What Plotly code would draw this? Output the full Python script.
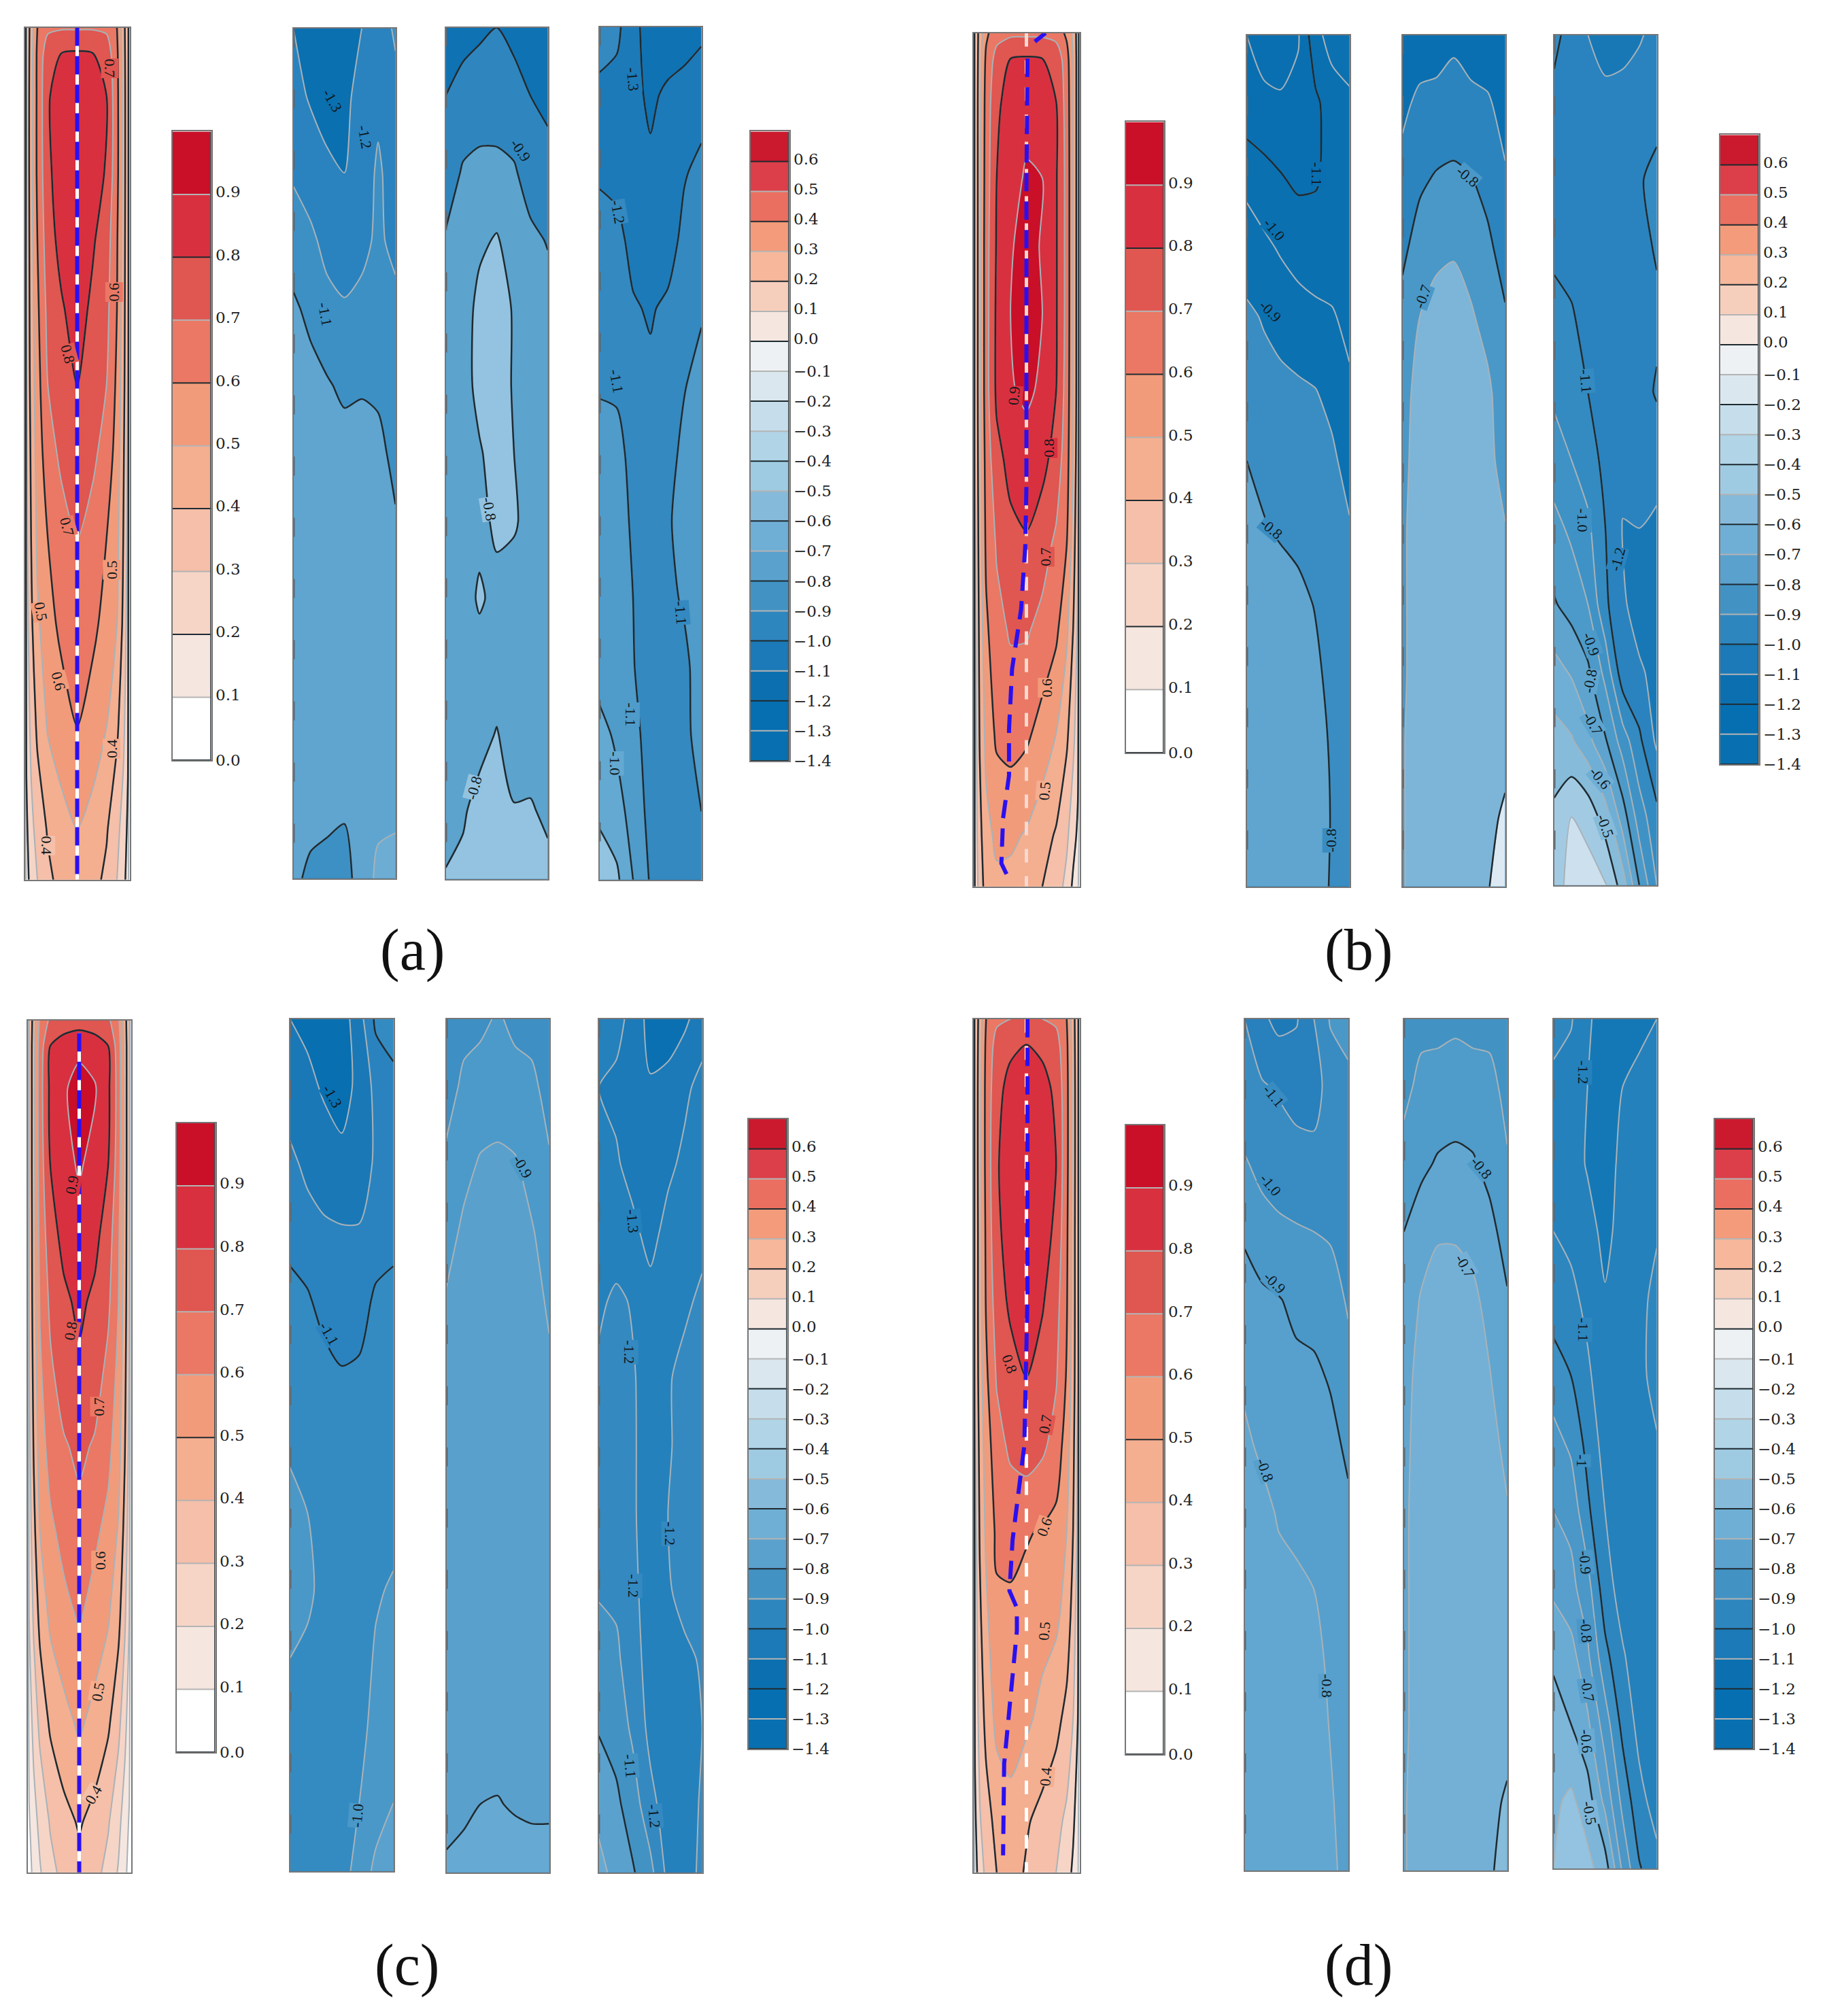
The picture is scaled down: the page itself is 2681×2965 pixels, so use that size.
"""
Velocity contour strips for four cases, each with a red strip, three blue strips and two colour bars.
"""

import plotly.graph_objects as go

CANVAS_W = 2681
CANVAS_H = 2965
# the page keeps its default body margin, so the figure sits 8 px in from the corner
PAGE_MARGIN = 8
FIG_W = CANVAS_W - 2 * PAGE_MARGIN
FIG_H = CANVAS_H - 2 * PAGE_MARGIN
# small correction measured from a render against the reference
X_SHIFT = 1.5
Y_SHIFT = 2.6
Y_FIT = 1.0038

RED_X = [0, .015, .06, .12, .22, .35, .5, .65, .78, .88, .94, .985, 1]
RED_Y = [0, .03, .08, .17, .25, .33, .42, .5, .6, .7, .82, .94, 1]
BLUE_X = [0, .17, .33, .5, .67, .83, 1]
BLUE_Y = [0, .08, .17, .25, .33, .42, .5, .58, .67, .75, .83, .92, 1]

RED_LEVELS = [0.0, 0.1, 0.2, 0.3, 0.4, 0.5, 0.6, 0.7, 0.8, 0.9, 1.0]
RED_COLORS = ["#ffffff", "#f5e6df", "#f6d5c7", "#f5bfa9", "#f4ae90", "#f29b7a",
              "#ea7864", "#e05650", "#d93040", "#ca0f28"]
RED_TICKS = ["0.0", "0.1", "0.2", "0.3", "0.4", "0.5", "0.6", "0.7", "0.8", "0.9"]

BLUE_LEVELS = [-1.4, -1.3, -1.2, -1.1, -1.0, -0.9, -0.8, -0.7, -0.6, -0.5, -0.4,
               -0.3, -0.2, -0.1, 0.0, 0.1, 0.2, 0.3, 0.4, 0.5, 0.6, 0.7]
BLUE_COLORS = ["#0870b0", "#066fb2", "#0c70b0", "#1b7ab7", "#2e86bf", "#4293c4", "#5aa1ce",
               "#6fafd5", "#85bada", "#9fcbe2", "#b1d4e6", "#c6deec", "#dbe7ef", "#edf1f4",
               "#f5e6df", "#f6cfbc", "#f6b79b", "#f39b7a", "#ea6f60", "#dc3f49", "#cb1a2e"]
BLUE_TICKS = ["−1.4", "−1.3", "−1.2", "−1.1", "−1.0", "−0.9", "−0.8", "−0.7", "−0.6", "−0.5",
              "−0.4", "−0.3", "−0.2", "−0.1", "0.0", "0.1", "0.2", "0.3", "0.4", "0.5", "0.6"]
RED_BAR_BLACK = {"a": [0, .2, .4, .6, .8], "b": [0, .2, .4, .6, .8], "c": [0, .5], "d": [0, .5]}
BLUE_BAR_BLACK = [-1.4, -1.2, -1.0, -.8, -.6, -.4, -.2, 0.0, .2, .4, .6]

A_RED = [
    [0, .30, .45, .60, .68, .69, .69, .69, .68, .60, .45, .30, 0],
    [0, .30, .46, .62, .76, .80, .81, .80, .76, .62, .46, .30, 0],
    [0, .30, .47, .62, .79, .85, .86, .85, .80, .63, .47, .30, 0],
    [0, .30, .47, .62, .78, .85, .87, .85, .79, .63, .47, .30, 0],
    [0, .30, .46, .60, .76, .83, .86, .81, .75, .61, .46, .30, 0],
    [0, .30, .45, .58, .73, .79, .84, .78, .73, .60, .45, .30, 0],
    [0, .29, .44, .56, .70, .76, .80, .76, .70, .58, .44, .29, 0],
    [0, .28, .42, .54, .66, .72, .77, .72, .66, .56, .42, .28, 0],
    [0, .27, .40, .52, .60, .66, .70, .66, .60, .53, .40, .27, 0],
    [0, .25, .38, .48, .57, .62, .66, .62, .57, .50, .38, .25, 0],
    [0, .22, .33, .42, .51, .56, .60, .56, .50, .42, .33, .22, 0],
    [0, .18, .27, .34, .41, .46, .50, .46, .41, .33, .26, .18, 0],
    [0, .16, .24, .30, .38, .43, .46, .43, .38, .30, .24, .15, 0],
]
A_B1 = [
    [-1.00, -1.06, -1.08, -1.08, -1.00, -0.97, -0.88],
    [-0.97, -1.01, -1.04, -1.02, -0.97, -0.93, -0.94],
    [-0.91, -0.95, -0.98, -1.00, -0.97, -0.88, -0.96],
    [-0.86, -0.88, -0.93, -0.95, -0.93, -0.88, -0.93],
    [-0.78, -0.83, -0.87, -0.89, -0.87, -0.86, -0.87],
    [-0.74, -0.76, -0.79, -0.82, -0.81, -0.82, -0.84],
    [-0.73, -0.73, -0.74, -0.76, -0.76, -0.77, -0.83],
    [-0.73, -0.73, -0.73, -0.74, -0.74, -0.75, -0.79],
    [-0.73, -0.73, -0.73, -0.73, -0.73, -0.73, -0.74],
    [-0.73, -0.73, -0.73, -0.73, -0.73, -0.73, -0.73],
    [-0.74, -0.74, -0.74, -0.74, -0.73, -0.73, -0.73],
    [-0.75, -0.77, -0.78, -0.79, -0.76, -0.72, -0.715],
    [-0.78, -0.82, -0.83, -0.84, -0.75, -0.68, -0.67],
]
A_B2 = [
    [-1.08, -1.04, -1.02, -1.00, -1.03, -1.05, -1.09],
    [-1.00, -0.96, -0.94, -0.94, -0.96, -1.00, -1.02],
    [-0.95, -0.89, -0.88, -0.88, -0.89, -0.94, -0.97],
    [-0.89, -0.86, -0.82, -0.79, -0.85, -0.88, -0.905],
    [-0.87, -0.85, -0.77, -0.75, -0.81, -0.86, -0.87],
    [-0.87, -0.84, -0.77, -0.75, -0.81, -0.85, -0.87],
    [-0.87, -0.85, -0.81, -0.76, -0.80, -0.85, -0.87],
    [-0.87, -0.85, -0.83, -0.78, -0.79, -0.83, -0.87],
    [-0.87, -0.85, -0.785, -0.83, -0.84, -0.85, -0.87],
    [-0.86, -0.85, -0.85, -0.84, -0.85, -0.85, -0.86],
    [-0.86, -0.85, -0.83, -0.795, -0.84, -0.85, -0.85],
    [-0.85, -0.81, -0.77, -0.76, -0.795, -0.79, -0.82],
    [-0.79, -0.78, -0.75, -0.74, -0.76, -0.76, -0.77],
]
A_B3 = [
    [-0.96, -0.98, -1.06, -1.16, -1.17, -1.14, -1.12],
    [-1.02, -1.03, -1.07, -1.12, -1.08, -1.07, -1.05],
    [-1.01, -1.03, -1.07, -1.08, -1.07, -1.01, -0.97],
    [-0.97, -0.97, -1.03, -1.06, -1.05, -0.97, -0.95],
    [-0.93, -0.93, -0.99, -1.01, -0.98, -0.93, -0.91],
    [-0.905, -0.91, -0.95, -0.98, -0.95, -0.905, -0.87],
    [-0.88, -0.88, -0.92, -0.96, -0.93, -0.88, -0.85],
    [-0.87, -0.87, -0.91, -0.95, -0.91, -0.87, -0.85],
    [-0.86, -0.86, -0.90, -0.95, -0.92, -0.89, -0.85],
    [-0.85, -0.85, -0.895, -0.95, -0.93, -0.92, -0.86],
    [-0.76, -0.82, -0.87, -0.94, -0.93, -0.92, -0.87],
    [-0.72, -0.76, -0.84, -0.93, -0.93, -0.92, -0.90],
    [-0.64, -0.68, -0.80, -0.91, -0.92, -0.91, -0.91],
]

B_RED = [
    [0, .30, .45, .58, .66, .68, .68, .68, .66, .58, .48, .35, .10],
    [0, .30, .46, .62, .74, .80, .81, .80, .77, .64, .50, .35, .10],
    [0, .30, .47, .64, .78, .84, .87, .84, .80, .66, .50, .35, .10],
    [0, .30, .47, .65, .80, .87, .91, .90, .81, .67, .50, .35, .10],
    [0, .30, .47, .66, .81, .89, .94, .89, .81, .67, .50, .35, .10],
    [0, .30, .47, .66, .82, .90, .95, .90, .81, .67, .50, .35, .10],
    [0, .30, .47, .66, .82, .89, .92, .88, .80, .66, .50, .35, .10],
    [0, .30, .46, .64, .77, .83, .85, .83, .76, .64, .50, .33, .10],
    [0, .28, .45, .62, .71, .77, .79, .74, .68, .60, .46, .30, .10],
    [0, .27, .43, .58, .67, .71, .71, .67, .62, .52, .40, .28, .10],
    [0, .25, .41, .53, .62, .64, .62, .56, .50, .42, .33, .24, .10],
    [0, .24, .37, .47, .52, .52, .49, .44, .39, .32, .24, .18, .08],
    [0, .22, .35, .44, .48, .47, .44, .40, .35, .27, .18, .12, .05],
]
B_B1 = [
    [-1.20, -1.24, -1.24, -1.21, -1.03, -0.96, -0.94],
    [-1.17, -1.18, -1.19, -1.17, -1.12, -1.05, -1.02],
    [-1.02, -1.06, -1.09, -1.12, -1.11, -1.07, -1.06],
    [-0.96, -0.98, -1.01, -1.03, -1.05, -1.06, -1.05],
    [-0.88, -0.91, -0.94, -0.97, -0.98, -0.99, -1.03],
    [-0.84, -0.86, -0.87, -0.88, -0.895, -0.93, -0.98],
    [-0.80, -0.82, -0.84, -0.85, -0.86, -0.88, -0.94],
    [-0.76, -0.795, -0.81, -0.83, -0.84, -0.85, -0.89],
    [-0.74, -0.75, -0.76, -0.77, -0.805, -0.85, -0.87],
    [-0.73, -0.74, -0.75, -0.76, -0.78, -0.83, -0.86],
    [-0.73, -0.73, -0.74, -0.75, -0.77, -0.81, -0.85],
    [-0.72, -0.73, -0.74, -0.74, -0.76, -0.805, -0.85],
    [-0.72, -0.73, -0.74, -0.74, -0.76, -0.81, -0.85],
]
B_B2 = [
    [-0.96, -0.95, -0.95, -0.92, -0.94, -0.95, -0.97],
    [-0.92, -0.88, -0.87, -0.86, -0.88, -0.89, -0.93],
    [-0.87, -0.815, -0.79, -0.78, -0.795, -0.83, -0.89],
    [-0.82, -0.76, -0.72, -0.71, -0.74, -0.78, -0.84],
    [-0.77, -0.70, -0.67, -0.66, -0.69, -0.735, -0.79],
    [-0.74, -0.66, -0.64, -0.63, -0.64, -0.68, -0.76],
    [-0.73, -0.65, -0.63, -0.62, -0.63, -0.67, -0.74],
    [-0.72, -0.64, -0.63, -0.62, -0.63, -0.65, -0.695],
    [-0.72, -0.64, -0.63, -0.62, -0.63, -0.64, -0.68],
    [-0.72, -0.64, -0.63, -0.62, -0.63, -0.64, -0.67],
    [-0.71, -0.64, -0.63, -0.62, -0.63, -0.64, -0.65],
    [-0.71, -0.64, -0.63, -0.62, -0.62, -0.64, -0.575],
    [-0.71, -0.64, -0.63, -0.62, -0.62, -0.61, -0.52],
]
B_B3 = [
    [-1.08, -1.13, -1.20, -1.23, -1.23, -1.21, -1.17],
    [-1.12, -1.15, -1.17, -1.18, -1.17, -1.15, -1.14],
    [-1.12, -1.15, -1.16, -1.17, -1.16, -1.11, -1.07],
    [-1.12, -1.14, -1.15, -1.16, -1.15, -1.13, -1.09],
    [-1.07, -1.09, -1.14, -1.17, -1.16, -1.14, -1.12],
    [-1.02, -1.05, -1.10, -1.15, -1.16, -1.14, -1.09],
    [-0.95, -1.00, -1.05, -1.13, -1.17, -1.16, -1.16],
    [-0.87, -0.92, -0.98, -1.10, -1.205, -1.20, -1.22],
    [-0.79, -0.84, -0.90, -1.08, -1.19, -1.23, -1.24],
    [-0.66, -0.71, -0.78, -0.93, -1.16, -1.19, -1.22],
    [-0.56, -0.59, -0.67, -0.79, -0.95, -1.08, -1.22],
    [-0.48, -0.40, -0.43, -0.55, -0.75, -0.95, -1.07],
    [-0.45, -0.36, -0.36, -0.39, -0.55, -0.80, -1.00],
]

C_RED = [
    [0, .30, .45, .62, .72, .74, .75, .74, .72, .62, .45, .30, 0],
    [0, .30, .47, .65, .80, .85, .88, .85, .80, .65, .47, .30, 0],
    [0, .30, .47, .66, .82, .89, .93, .91, .82, .66, .47, .30, 0],
    [0, .30, .47, .65, .80, .87, .91, .87, .80, .65, .47, .30, 0],
    [0, .30, .46, .63, .76, .83, .87, .83, .75, .62, .46, .30, 0],
    [0, .30, .45, .61, .72, .78, .82, .78, .72, .60, .45, .30, 0],
    [0, .29, .43, .58, .68, .74, .78, .74, .67, .57, .43, .29, 0],
    [0, .27, .41, .55, .64, .69, .72, .69, .63, .54, .41, .27, 0],
    [0, .24, .37, .50, .58, .63, .67, .62, .57, .49, .37, .24, 0],
    [0, .20, .32, .43, .52, .57, .61, .56, .51, .43, .32, .20, 0],
    [0, .14, .24, .33, .42, .47, .52, .47, .42, .33, .24, .14, 0],
    [0, .09, .16, .23, .31, .37, .41, .37, .31, .23, .15, .09, 0],
    [0, .06, .13, .19, .27, .33, .37, .33, .27, .19, .13, .06, 0],
]
C_B1 = [
    [-1.20, -1.22, -1.25, -1.25, -1.14, -0.98, -0.95],
    [-1.17, -1.18, -1.21, -1.23, -1.18, -1.07, -1.03],
    [-1.07, -1.13, -1.16, -1.18, -1.17, -1.08, -1.05],
    [-1.03, -1.05, -1.08, -1.09, -1.09, -1.06, -1.03],
    [-0.97, -0.99, -1.03, -1.06, -1.05, -0.98, -0.97],
    [-0.96, -0.96, -0.97, -0.99, -0.98, -0.97, -0.99],
    [-0.91, -0.93, -0.95, -0.95, -0.95, -0.95, -0.95],
    [-0.88, -0.90, -0.93, -0.95, -0.95, -0.95, -0.93],
    [-0.87, -0.89, -0.915, -0.95, -0.95, -0.91, -0.89],
    [-0.90, -0.91, -0.93, -0.95, -0.94, -0.89, -0.87],
    [-0.93, -0.93, -0.94, -0.95, -0.92, -0.88, -0.87],
    [-0.95, -0.95, -0.95, -0.95, -0.90, -0.84, -0.80],
    [-0.95, -0.95, -0.95, -0.95, -0.85, -0.78, -0.77],
]
C_B2 = [
    [-0.93, -0.93, -0.92, -0.89, -0.92, -0.93, -0.95],
    [-0.94, -0.88, -0.86, -0.85, -0.87, -0.88, -0.93],
    [-0.88, -0.83, -0.79, -0.78, -0.79, -0.84, -0.89],
    [-0.84, -0.78, -0.76, -0.75, -0.76, -0.79, -0.85],
    [-0.79, -0.76, -0.75, -0.75, -0.75, -0.76, -0.815],
    [-0.77, -0.75, -0.75, -0.74, -0.75, -0.75, -0.78],
    [-0.76, -0.75, -0.74, -0.74, -0.74, -0.75, -0.76],
    [-0.76, -0.75, -0.74, -0.74, -0.74, -0.75, -0.76],
    [-0.76, -0.75, -0.74, -0.74, -0.74, -0.75, -0.76],
    [-0.76, -0.75, -0.74, -0.74, -0.74, -0.75, -0.76],
    [-0.76, -0.75, -0.74, -0.74, -0.74, -0.75, -0.76],
    [-0.74, -0.73, -0.70, -0.695, -0.71, -0.72, -0.72],
    [-0.68, -0.65, -0.65, -0.64, -0.65, -0.65, -0.65],
]
C_B3 = [
    [-0.95, -0.97, -1.03, -1.14, -1.15, -1.12, -1.05],
    [-1.00, -1.02, -1.05, -1.09, -1.07, -1.02, -0.97],
    [-0.96, -0.99, -1.03, -1.07, -1.02, -0.98, -0.95],
    [-0.93, -0.96, -0.98, -1.03, -0.97, -0.95, -0.93],
    [-0.92, -0.88, -0.91, -0.97, -0.95, -0.92, -0.88],
    [-0.88, -0.85, -0.89, -0.95, -0.91, -0.87, -0.86],
    [-0.86, -0.85, -0.89, -0.94, -0.91, -0.87, -0.85],
    [-0.86, -0.85, -0.89, -0.94, -0.90, -0.87, -0.85],
    [-0.81, -0.82, -0.88, -0.94, -0.91, -0.87, -0.86],
    [-0.75, -0.78, -0.86, -0.94, -0.92, -0.92, -0.89],
    [-0.71, -0.74, -0.82, -0.93, -0.95, -0.93, -0.90],
    [-0.62, -0.68, -0.75, -0.87, -0.95, -0.94, -0.89],
    [-0.58, -0.62, -0.69, -0.77, -0.93, -0.92, -0.89],
]

D_RED = [
    [0, .30, .45, .60, .68, .70, .71, .70, .68, .60, .45, .30, 0],
    [0, .30, .46, .62, .74, .78, .80, .78, .74, .62, .46, .30, 0],
    [0, .30, .47, .63, .77, .83, .85, .83, .78, .63, .47, .30, 0],
    [0, .30, .47, .63, .79, .85, .87, .85, .80, .63, .47, .30, 0],
    [0, .30, .46, .62, .78, .84, .86, .84, .78, .62, .46, .30, 0],
    [0, .30, .46, .61, .75, .82, .85, .81, .74, .61, .46, .30, 0],
    [0, .30, .45, .58, .71, .76, .80, .76, .71, .59, .45, .30, .05],
    [0, .28, .43, .55, .66, .72, .75, .72, .66, .55, .43, .28, .05],
    [0, .26, .41, .52, .62, .63, .61, .59, .57, .50, .40, .28, .05],
    [0, .24, .38, .48, .58, .58, .56, .54, .52, .46, .36, .24, .05],
    [0, .22, .34, .43, .53, .54, .52, .47, .43, .37, .30, .20, .05],
    [0, .18, .29, .36, .43, .47, .41, .37, .33, .28, .22, .14, .03],
    [0, .15, .26, .32, .40, .44, .39, .34, .30, .25, .18, .12, .02],
]
D_B1 = [
    [-1.00, -1.08, -1.13, -1.11, -1.00, -0.89, -0.87],
    [-0.97, -0.99, -1.01, -1.03, -1.04, -0.96, -0.92],
    [-0.89, -0.93, -0.95, -0.97, -0.97, -0.94, -0.93],
    [-0.81, -0.86, -0.88, -0.89, -0.90, -0.91, -0.93],
    [-0.77, -0.78, -0.795, -0.82, -0.84, -0.86, -0.91],
    [-0.72, -0.75, -0.76, -0.78, -0.78, -0.81, -0.87],
    [-0.68, -0.72, -0.74, -0.75, -0.76, -0.77, -0.82],
    [-0.66, -0.67, -0.71, -0.73, -0.74, -0.76, -0.78],
    [-0.65, -0.65, -0.67, -0.68, -0.70, -0.74, -0.77],
    [-0.65, -0.65, -0.65, -0.66, -0.67, -0.72, -0.76],
    [-0.65, -0.65, -0.65, -0.65, -0.66, -0.705, -0.75],
    [-0.65, -0.65, -0.65, -0.65, -0.66, -0.69, -0.74],
    [-0.65, -0.65, -0.65, -0.65, -0.66, -0.68, -0.73],
]
D_B2 = [
    [-0.95, -0.93, -0.93, -0.92, -0.93, -0.93, -0.95],
    [-0.93, -0.87, -0.86, -0.85, -0.86, -0.87, -0.93],
    [-0.86, -0.82, -0.79, -0.78, -0.79, -0.83, -0.89],
    [-0.80, -0.75, -0.71, -0.71, -0.73, -0.77, -0.84],
    [-0.77, -0.69, -0.66, -0.66, -0.68, -0.73, -0.79],
    [-0.74, -0.66, -0.65, -0.65, -0.65, -0.695, -0.76],
    [-0.73, -0.65, -0.65, -0.65, -0.65, -0.66, -0.73],
    [-0.72, -0.65, -0.65, -0.65, -0.65, -0.65, -0.69],
    [-0.72, -0.65, -0.65, -0.65, -0.65, -0.65, -0.66],
    [-0.72, -0.65, -0.65, -0.65, -0.65, -0.65, -0.66],
    [-0.72, -0.65, -0.65, -0.65, -0.65, -0.65, -0.65],
    [-0.71, -0.65, -0.65, -0.65, -0.65, -0.64, -0.58],
    [-0.71, -0.65, -0.65, -0.65, -0.65, -0.62, -0.54],
]
D_B3 = [
    [-1.07, -1.09, -1.19, -1.23, -1.24, -1.23, -1.20],
    [-1.12, -1.15, -1.20, -1.24, -1.20, -1.17, -1.15],
    [-1.14, -1.15, -1.21, -1.25, -1.17, -1.16, -1.15],
    [-1.10, -1.13, -1.16, -1.23, -1.16, -1.14, -1.11],
    [-1.04, -1.07, -1.13, -1.19, -1.16, -1.13, -1.07],
    [-0.96, -1.00, -1.08, -1.17, -1.16, -1.13, -1.06],
    [-0.86, -0.92, -1.03, -1.14, -1.16, -1.15, -1.11],
    [-0.80, -0.83, -0.98, -1.10, -1.16, -1.16, -1.16],
    [-0.72, -0.77, -0.86, -1.06, -1.14, -1.16, -1.16],
    [-0.62, -0.66, -0.78, -0.97, -1.09, -1.15, -1.16],
    [-0.55, -0.60, -0.68, -0.85, -1.03, -1.13, -1.16],
    [-0.52, -0.48, -0.55, -0.73, -0.93, -1.07, -1.14],
    [-0.50, -0.46, -0.47, -0.55, -0.82, -0.99, -1.07],
]

# contour labels: text, x, y, angle
A_RED_LABELS = [("0.7", .81, .048, 90), ("0.6", .85, .31, -90), ("0.8", .41, .383, 75),
                ("0.7", .40, .586, 75), ("0.5", .83, .636, -90), ("0.5", .156, .685, 80),
                ("0.6", .32, .767, 75), ("0.4", .83, .846, -90), ("0.4", .205, .96, 90)]
A_B1_LABELS = [("-1.3", .38, .085, 60), ("-1.2", .70, .128, 80), ("-1.1", .31, .336, 80)]
A_B2_LABELS = [("-0.9", .73, .144, 55), ("-0.8", .43, .565, 80), ("-0.8", .28, .893, -75)]
A_B3_LABELS = [("-1.3", .33, .061, 85), ("-1.2", .18, .217, 80), ("-1.1", .17, .415, 80),
               ("-1.1", .80, .687, 85), ("-1.1", .31, .806, 90), ("-1.0", .156, .864, 90)]
B_RED_LABELS = [("0.9", .38, .425, -85), ("0.8", .71, .486, -90), ("0.7", .68, .614, -90),
                ("0.6", .69, .767, -90), ("0.5", .67, .888, -85)]
B_B1_LABELS = [("-1.1", .68, .163, 90), ("-1.0", .27, .228, 50), ("-0.9", .23, .324, 45),
               ("-0.8", .24, .58, 40), ("-0.8", .82, .946, -90)]
B_B2_LABELS = [("-0.8", .635, .166, 40), ("-0.7", .20, .307, -70)]
B_B3_LABELS = [("-1.1", .31, .407, 85), ("-1.0", .28, .571, 90), ("-1.2", .62, .617, -75),
               ("-0.9", .36, .717, 70), ("-0.8", .35, .76, -80), ("-0.7", .38, .81, 60),
               ("-0.6", .45, .874, 50), ("-0.5", .50, .93, 70)]
C_RED_LABELS = [("0.9", .43, .193, -80), ("0.8", .42, .364, -80), ("0.7", .69, .453, -90),
                ("0.6", .70, .634, -90), ("0.5", .68, .788, -80), ("0.4", .64, .909, -60)]
C_B1_LABELS = [("-1.3", .41, .091, 60), ("-1.1", .38, .369, 60), ("-1.0", .65, .935, -85)]
C_B2_LABELS = [("-0.9", .74, .173, 60)]
C_B3_LABELS = [("-1.3", .33, .237, 85), ("-1.2", .30, .39, 90), ("-1.2", .69, .603, 90),
               ("-1.2", .34, .664, 90), ("-1.1", .30, .875, 85), ("-1.2", .54, .934, 85)]
D_RED_LABELS = [("0.8", .34, .404, 70), ("0.7", .68, .475, -80), ("0.6", .67, .595, -70),
                ("0.5", .67, .717, -85), ("0.4", .68, .888, -85)]
D_B1_LABELS = [("-1.1", .28, .09, 50), ("-1.0", .25, .195, 50), ("-0.9", .29, .31, 45),
               ("-0.8", .20, .53, 70), ("-0.8", .80, .783, 90)]
D_B2_LABELS = [("-0.8", .75, .175, 50), ("-0.7", .59, .29, 60)]
D_B3_LABELS = [("-1.2", .29, .063, 90), ("-1.1", .29, .366, 90), ("-1", .28, .52, 90),
               ("-0.9", .31, .64, 85), ("-0.8", .32, .72, 85), ("-0.7", .33, .79, 80),
               ("-0.6", .32, .85, 85), ("-0.5", .35, .935, 80)]

# ridge paths drawn in blue on the red strips
A_PATH_X = [.5, .5]
A_PATH_Y = [0, 1]
B_PATH_X = [.68, .58, None, .51, .50, .50, .49, .45, .365, .336, .336, .28, .264, .35]
B_PATH_Y = [0, .01, None, .03, .18, .53, .60, .675, .745, .816, .87, .92, .973, .995]
C_PATH_X = [.5, .5]
C_PATH_Y = [.015, 1]
D_PATH_X = [.51, .51, .48, .41, .37, .34, .41, .41, .35, .29, .28]
D_PATH_Y = [0, .326, .50, .575, .61, .67, .69, .717, .79, .873, .98]

# band colours that differ from the bar, keyed on the lower level of the band
A_B1_BANDS = {-1.1: "#0a70b0", -1.0: "#2a83be", -.9: "#3d90c4", -.8: "#5fa5cf", -.7: "#6dadd4"}
A_B2_BANDS = {-1.1: "#0f72b3", -1.0: "#2f86bf", -.9: "#5ca3cd", -.8: "#93c3e0"}
A_B3_BANDS = {-1.2: "#0f72b3", -1.1: "#1d7ab8", -1.0: "#3489c0", -.9: "#4f9bc9", -.8: "#63a9d2", -.7: "#92c3e0"}
B_B1_BANDS = {-1.3: "#0a6fb0", -1.2: "#0a6fb0", -1.1: "#0a70b0", -1.0: "#0c71b1", -.9: "#3a8dc2", -.8: "#5fa5cf"}
B_B2_BANDS = {-1.0: "#0a6fb0", -.9: "#2b84bd", -.8: "#4a98c8", -.7: "#7db5d8", -.6: "#dce9f2"}
B_B3_BANDS = {-.4: "#cde0ee", -.5: "#a2cbe3", -.6: "#86bbda", -.7: "#70afd5", -.8: "#5ea4ce",
              -.9: "#4c9ac9", -1.0: "#3f92c5", -1.1: "#348bc1", -1.2: "#2a83be", -1.3: "#1878b6"}
C_B1_BANDS = {-1.3: "#086fb0", -1.2: "#1a78b7", -1.1: "#2a83be", -1.0: "#348bc2", -.9: "#4a98c8", -.8: "#5aa1ce"}
C_B2_BANDS = {-1.0: "#3d8fc4", -.9: "#4c9ac9", -.8: "#5aa0cd", -.7: "#66aad3"}
C_B3_BANDS = {-1.2: "#0a70b1", -1.1: "#1b7ab7", -1.0: "#2481bc", -.9: "#3589c1", -.8: "#4293c4",
              -.7: "#5aa1ce", -.6: "#66aad3"}
D_B1_BANDS = {-1.2: "#1e7ab7", -1.1: "#2880bc", -1.0: "#388cc2", -.9: "#4a98c8", -.8: "#57a0cd", -.7: "#62a7d1"}
D_B2_BANDS = {-1.0: "#4293c4", -.9: "#4f9bc9", -.8: "#61a6d0", -.7: "#74b0d6", -.6: "#86bbda"}
D_B3_BANDS = {-.5: "#93c3e0", -.6: "#7db6d9", -.7: "#69abd3", -.8: "#589fcd", -.9: "#4a97c8",
              -1.0: "#3d90c4", -1.1: "#2e86bf", -1.2: "#2481bc", -1.3: "#1578b6"}

# strip rectangles in page pixels: left, right, top, bottom
STRIPS = [
    (A_RED, "red", (35, 189, 38, 1292), [.8, .6, .4, .2], A_RED_LABELS, {}),
    (A_B1, "blue", (430, 580, 39, 1290), [-.8], A_B1_LABELS, A_B1_BANDS),
    (A_B2, "blue", (654, 804, 38, 1291), [-1.0, -.9, -.8], A_B2_LABELS, A_B2_BANDS),
    (A_B3, "blue", (880, 1030, 37, 1292), [-1.1, -1.0, -.9, -.8, -.7], A_B3_LABELS, A_B3_BANDS),
    (B_RED, "red", (1430, 1586, 46, 1302), [.8, .6, .4, .2], B_RED_LABELS, {}),
    (B_B1, "blue", (1832, 1983, 49, 1302), [-1.1, -.8], B_B1_LABELS, B_B1_BANDS),
    (B_B2, "blue", (2061, 2212, 49, 1302), [-.8, -.6], B_B2_LABELS, B_B2_BANDS),
    (B_B3, "blue", (2284, 2435, 49, 1300), [-1.1, -.8, -.5], B_B3_LABELS, B_B3_BANDS),
    (C_RED, "red", (39, 191, 1499, 2753), [.8, .4], C_RED_LABELS, {}),
    (C_B1, "blue", (425, 577, 1497, 2751), [-1.0], C_B1_LABELS, C_B1_BANDS),
    (C_B2, "blue", (655, 806, 1497, 2753), [-.7], C_B2_LABELS, C_B2_BANDS),
    (C_B3, "blue", (879, 1031, 1497, 2753), [-.7], C_B3_LABELS, C_B3_BANDS),
    (D_RED, "red", (1430, 1586, 1497, 2753), [.8, .6, .4, .2], D_RED_LABELS, {}),
    (D_B1, "blue", (1829, 1981, 1497, 2750), [-.8], D_B1_LABELS, D_B1_BANDS),
    (D_B2, "blue", (2063, 2215, 1497, 2750), [-.8, -.6], D_B2_LABELS, D_B2_BANDS),
    (D_B3, "blue", (2283, 2435, 1497, 2747), [-1.0, -.6], D_B3_LABELS, D_B3_BANDS),
]
PATHS = [
    (0, A_PATH_X, A_PATH_Y, "#ffffff", None),
    (4, B_PATH_X, B_PATH_Y, "#f6d9cf", "20px,20px"),
    (8, C_PATH_X, C_PATH_Y, "#ffffff", None),
    (12, D_PATH_X, D_PATH_Y, "#ffffff", "20px,20px"),
]
RED_BARS = [("a", (252, 309, 191, 1116)), ("b", (1654, 1710, 177, 1105)),
            ("c", (258, 315, 1650, 2576)), ("d", (1654, 1710, 1653, 2579))]
BLUE_BARS = [(1102, 1159, 191, 1117), (2528, 2585, 196, 1122),
             (1099, 1156, 1644, 2571), (2520, 2577, 1644, 2571)]
LETTERS = [("(a)", 605, 1395), ("(b)", 1997, 1395), ("(c)", 597, 2889), ("(d)", 1997, 2889)]

SERIF = "Liberation Serif"
BAR_FONT = "DejaVu Serif"
GRAY_LINE = "#a8b2b8"
BLACK_LINE = "#1f2a30"
FRAME = "#777777"

fig = go.Figure()
axis_count = 0


def to_page(px, py):
    """Page pixel position as a fraction of the figure."""
    fx = (px - PAGE_MARGIN + X_SHIFT) / FIG_W
    fy = 1 - ((py - PAGE_MARGIN) * Y_FIT + Y_SHIFT) / FIG_H
    return fx, fy


def add_axes(rect):
    """Add one x/y axis pair that fills a pixel rectangle; returns the trace axis ids."""
    global axis_count
    axis_count += 1
    left, right, top, bottom = rect
    suffix = "" if axis_count == 1 else str(axis_count)
    x0, y1 = to_page(left, top)
    x1, y0 = to_page(right, bottom)
    fig.update_layout(**{
        f"xaxis{suffix}": dict(domain=[x0, x1], anchor=f"y{suffix}", range=[0, 1],
                               showgrid=False, zeroline=False, ticks="", showticklabels=False,
                               showline=True, mirror=True, linecolor=FRAME, linewidth=2),
        f"yaxis{suffix}": dict(domain=[y0, y1], anchor=f"x{suffix}", showgrid=False, zeroline=False,
                               ticks="", showticklabels=False,
                               showline=True, mirror=True, linecolor=FRAME, linewidth=2),
    })
    return f"x{suffix}", f"y{suffix}", f"yaxis{suffix}"


def step_scale(colors):
    """Colour scale with one flat step per band."""
    n = len(colors)
    scale = []
    for i, c in enumerate(colors):
        scale.append([i / n, c])
        scale.append([(i + 1) / n, c])
    return scale


def band_colors(levels, colors, overrides):
    out = list(colors)
    for low, c in overrides.items():
        for i, lv in enumerate(levels[:-1]):
            if abs(lv - low) < 1e-6:
                out[i] = c
    return out


def band_at(z, xs, ys, x, y, levels, colors):
    """Fill colour under a label, reading the grid bilinearly."""
    i = max(k for k in range(len(ys) - 1) if ys[k] <= y)
    j = max(k for k in range(len(xs) - 1) if xs[k] <= x)
    ty = (y - ys[i]) / (ys[i + 1] - ys[i])
    tx = (x - xs[j]) / (xs[j + 1] - xs[j])
    top = z[i][j] * (1 - tx) + z[i][j + 1] * tx
    low = z[i + 1][j] * (1 - tx) + z[i + 1][j + 1] * tx
    v = top * (1 - ty) + low * ty
    for k in range(len(colors)):
        if levels[k] <= v < levels[k + 1]:
            return colors[k]
    return colors[-1]


for z, kind, rect, black_levels, labels, overrides in STRIPS:
    xa, ya, y_name = add_axes(rect)
    fig.layout[y_name].range = [1, 0]
    if kind == "red":
        xs, ys, levels, base = RED_X, RED_Y, RED_LEVELS, RED_COLORS
    else:
        xs, ys, levels, base = BLUE_X, BLUE_Y, BLUE_LEVELS, BLUE_COLORS
    colors = band_colors(levels, base, overrides)
    fig.add_trace(go.Contour(
        x=xs, y=ys, z=z, xaxis=xa, yaxis=ya,
        zmin=levels[0], zmax=levels[-1], colorscale=step_scale(colors), showscale=False,
        contours=dict(start=levels[1], end=levels[-2], size=0.1, coloring="fill", showlabels=False),
        line=dict(color=GRAY_LINE, width=2, smoothing=0.7),
        hoverinfo="skip",
    ))
    for lv in black_levels:
        fig.add_trace(go.Contour(
            x=xs, y=ys, z=z, xaxis=xa, yaxis=ya, showscale=False,
            contours=dict(start=lv, end=lv, size=0.1, coloring="none"),
            line=dict(color=BLACK_LINE, width=2.5, smoothing=0.7),
            hoverinfo="skip",
        ))
    if kind == "blue":
        fig.add_trace(go.Scatter(
            x=[0, 0], y=[0, 1], xaxis=xa, yaxis=ya, mode="lines", cliponaxis=False,
            line=dict(color="#5a6670", width=4, dash="28px,62px"), hoverinfo="skip",
        ))
    for text, x, y, angle in labels:
        fig.add_annotation(
            x=x, y=y, xref=xa, yref=ya, text=text, textangle=angle, showarrow=False,
            font=dict(family=SERIF, size=22, color="#10181c"),
            bgcolor=band_at(z, xs, ys, x, y, levels, colors), borderpad=0,
        )

for strip_index, path_x, path_y, under_color, under_dash in PATHS:
    xa = "x" if strip_index == 0 else f"x{strip_index + 1}"
    ya = "y" if strip_index == 0 else f"y{strip_index + 1}"
    fig.add_trace(go.Scatter(
        x=[.5, .5], y=[min(v for v in path_y if v is not None), 1], xaxis=xa, yaxis=ya, mode="lines",
        line=dict(color=under_color, width=5, dash=under_dash), hoverinfo="skip",
    ))
    fig.add_trace(go.Scatter(
        x=path_x, y=path_y, xaxis=xa, yaxis=ya, mode="lines",
        line=dict(color="#2a10f0", width=6, dash="27px,15px"), hoverinfo="skip",
    ))


def add_bar(rect, levels, colors, ticks, black_levels, nudge):
    """Colour bar drawn as a one-column heatmap with its level lines."""
    xa, ya, y_name = add_axes(rect)
    fig.add_trace(go.Heatmap(
        x=[0, 1], y=levels, z=[[i] for i in range(len(colors))], xaxis=xa, yaxis=ya,
        zmin=-0.5, zmax=len(colors) - 0.5, colorscale=step_scale(colors), showscale=False,
        hoverinfo="skip",
    ))
    for is_black, color in ((False, "#b4b4b4"), (True, BLACK_LINE)):
        line_x, line_y = [], []
        for lv in levels[:-1]:
            if any(abs(lv - b) < 1e-6 for b in black_levels) == is_black:
                line_x += [0, 1, None]
                line_y += [lv, lv, None]
        fig.add_trace(go.Scatter(x=line_x, y=line_y, xaxis=xa, yaxis=ya, mode="lines",
                                 cliponaxis=False, line=dict(color=color, width=2), hoverinfo="skip"))
    fig.add_trace(go.Scatter(x=[1, 1], y=[levels[0], levels[-1]], xaxis=xa, yaxis=ya, mode="lines",
                             cliponaxis=False, line=dict(color="#3c4448", width=3), hoverinfo="skip"))
    fig.layout[y_name].update(
        range=[levels[0], levels[-1]], side="right", showticklabels=True,
        tickmode="array", tickvals=[lv + nudge if lv > levels[0] and lv >= 0 else lv for lv in levels[:len(ticks)]],
        ticktext=ticks, tickfont=dict(family=BAR_FONT, size=23, color="#222222"), ticklabelstandoff=0,
    )


for key, rect in RED_BARS:
    add_bar(rect, RED_LEVELS, RED_COLORS, RED_TICKS, RED_BAR_BLACK[key], 0.004)
for rect in BLUE_BARS:
    add_bar(rect, BLUE_LEVELS, BLUE_COLORS, BLUE_TICKS, BLUE_BAR_BLACK, 0.008)

for text, px, py in LETTERS:
    fx, fy = to_page(px, py)
    fig.add_annotation(
        x=fx, y=fy, xref="paper", yref="paper", text=text, xanchor="center", yanchor="middle",
        showarrow=False, font=dict(family=SERIF, size=86, color="#111111"),
    )

fig.update_layout(
    width=FIG_W, height=FIG_H, autosize=False,
    margin=dict(l=0, r=0, t=0, b=0, pad=0),
    paper_bgcolor="white", plot_bgcolor="white", showlegend=False,
)

fig.write_html("out.html")
